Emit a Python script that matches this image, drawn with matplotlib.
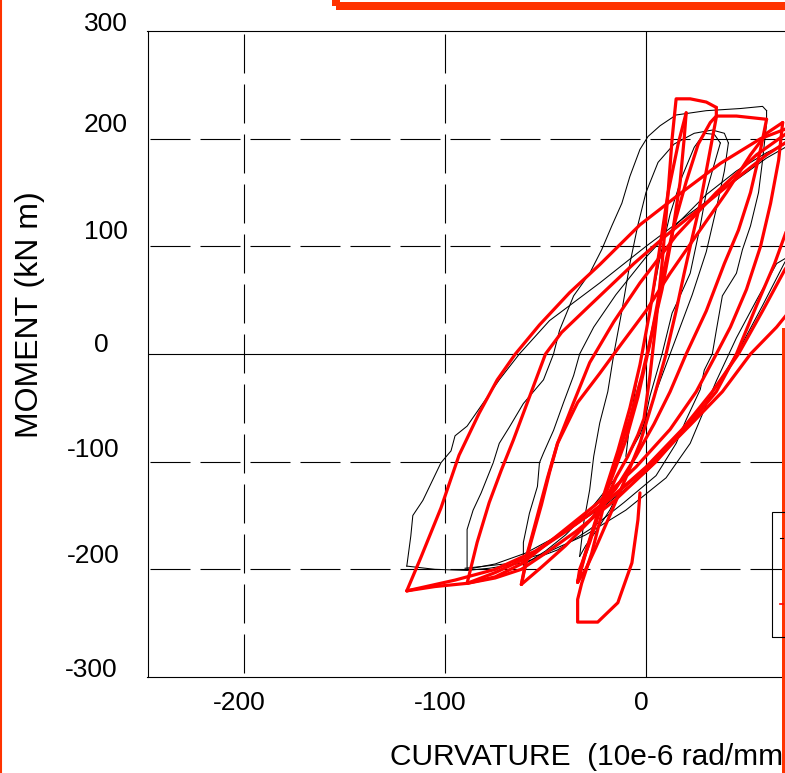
import numpy as np
import matplotlib.pyplot as plt
from matplotlib.patches import Rectangle
from matplotlib.lines import Line2D

plt.rcParams['font.family'] = ['Liberation Sans', 'DejaVu Sans']
plt.rcParams['lines.scale_dashes'] = False

# axis ticks
x_ticks = [-200, -100, 0]
x_tick_labels = ['-200', '-100', '0']
y_ticks = [300, 200, 100, 0, -100, -200, -300]
y_tick_labels = ['300', '200', '100', '0', '-100', '-200', '-300']

# analytical model (red), branch by branch: (curvature, moment)
red_e_start = [(-3, -129), (-4, -154), (-7, -194), (-14, -231), (-24, -249), (-34, -249),
               (-34, -228), (-32, -213), (-27, -185), (-21, -141), (-15, -115), (-9, -95),
               (-4, -75), (-1, -60), (2, -20), (5, 30), (8, 84), (11, 150), (13, 200),
               (15, 237), (22, 237), (30, 234), (35, 229)]
red_e_down = [(35, 229), (35, 220), (32, 190), (27, 140), (22, 100), (19, 75), (15, 40),
              (10, 0), (4, -40), (-3, -83), (-10, -115), (-18, -150), (-25, -180),
              (-30, -200), (-34, -212)]
red_f_up = [(-34, -212), (-31, -190), (-26, -160), (-20, -125), (-14, -90), (-8, -50),
            (-3, -10), (2, 40), (7, 100), (11, 150), (16, 195), (20, 224)]
red_f_down = [(20, 224), (19, 200), (17, 160), (13, 110), (8, 60), (3, 20), (-2, -20),
              (-8, -60), (-15, -100), (-22, -140), (-28, -175), (-33, -200), (-34, -212)]
red_d_up = [(-34, -212), (-30, -185), (-24, -150), (-17, -115), (-10, -80), (-4, -40),
            (2, 10), (8, 70), (14, 120), (20, 160), (26, 195), (32, 215), (35, 221),
            (45, 221), (55, 219), (60, 218)]
red_d_down = [(60, 218), (57, 190), (52, 150), (46, 115), (39, 84), (30, 40), (20, 0),
              (12, -35), (4, -65), (-5, -95), (-15, -125), (-28, -155), (-40, -178),
              (-52, -198), (-62, -214)]
red_g_up = [(-62, -214), (-58, -180), (-52, -140), (-48, -110), (-44, -83), (-34, -45),
            (-23, -18), (-12, 10), (0, 40), (12, 75), (25, 110), (40, 150), (52, 185),
            (60, 205), (68, 215)]
red_g_down = [(68, 215), (66, 180), (62, 140), (57, 100), (50, 60), (42, 25), (35, 0),
              (25, -35), (12, -70), (-5, -105), (-25, -140), (-45, -170), (-62, -195),
              (-75, -207), (-89, -213)]
red_c_up = [(-62, -214), (-59, -185), (-54, -150), (-49, -115), (-44, -83), (-36, -45),
            (-28, -8), (-16, 30), (-3, 66), (15, 110), (35, 150), (55, 185), (70, 205),
            (85, 218)]
red_c_down = [(85, 218), (82, 190), (76, 150), (70, 115), (64, 84), (55, 45), (45, 0),
              (35, -35), (22, -64), (5, -100), (-15, -135), (-35, -165), (-50, -185),
              (-62, -200), (-75, -208), (-89, -213)]
red_b_up = [(-89, -213), (-84, -175), (-78, -138), (-72, -108), (-66, -80), (-60, -50),
            (-55, -25), (-50, 0), (-42, 20), (-28, 45), (-6, 84), (10, 110), (30, 140),
            (45, 163), (60, 185), (75, 203), (90, 215), (100, 220)]
red_b_down = [(100, 220), (96, 185), (88, 140), (78, 105), (69, 78), (58, 40), (46, 0),
              (33, -35), (18, -70), (0, -105), (-20, -138), (-40, -165), (-60, -190),
              (-75, -203), (-89, -213), (-105, -216), (-119, -220)]
red_a_up = [(-119, -220), (-112, -189), (-102, -143), (-93, -94), (-83, -55), (-74, -24),
            (-65, 0), (-53, 27), (-38, 57), (-23, 83), (-3, 120), (17, 149), (37, 177),
            (57, 200), (75, 213), (100, 220), (125, 222)]
red_a_down = [(125, 222), (121, 185), (113, 145), (102, 110), (90, 82), (78, 55), (65, 25),
              (52, 0), (38, -35), (22, -66), (5, -98), (-15, -130), (-35, -158),
              (-55, -183), (-75, -200), (-95, -210), (-119, -220)]

# test record (black)
blk_start = [(-10, -95), (-8, -64), (-5, -30), (-1, 10), (3, 50), (7, 90), (12, 130),
             (18, 165), (24, 192), (29, 205), (34, 204), (37, 196)]
blk_e_down = [(37, 196), (33, 170), (30, 150), (27, 119), (22, 75), (16, 50), (13, 38),
              (8, 0), (2, -39), (-3, -83), (-10, -115), (-18, -145), (-25, -165),
              (-30, -178), (-33, -188)]
blk_e_up = [(-33, -188), (-31, -157), (-28, -126), (-26, -95), (-23, -64), (-19, -35),
            (-16, 0), (-12, 40), (-8, 84), (-4, 120), (0, 150), (6, 178), (14, 195),
            (24, 205), (33, 208), (39, 205), (41, 196)]
blk_d_down = [(41, 196), (39, 170), (35, 135), (30, 95), (23, 55), (16, 20), (12, 0),
              (5, -35), (-3, -75), (-15, -115), (-28, -145), (-40, -168), (-50, -183),
              (-61, -196)]
blk_d_up = [(-61, -196), (-61, -175), (-58, -148), (-54, -123), (-53, -101), (-51, -92),
            (-46, -71), (-41, -45), (-36, -20), (-33, 0), (-26, 25), (-15, 55), (0, 90),
            (15, 120), (30, 148), (45, 170), (60, 187), (75, 200), (90, 210), (97, 213)]
blk_c_down = [(97, 213), (93, 180), (86, 140), (78, 110), (69, 85), (58, 45), (48, 10),
              (40, -15), (30, -45), (15, -80), (0, -110), (-20, -140), (-40, -165),
              (-60, -185), (-75, -195), (-89, -200)]
blk_b_up = [(-89, -200), (-89, -163), (-86, -145), (-82, -129), (-76, -101), (-73, -83),
            (-68, -68), (-61, -46), (-51, -24), (-46, 0), (-43, 22), (-36, 54), (-28, 75),
            (-22, 97), (-17, 119), (-12, 140), (-8, 165), (-3, 190), (1, 202), (7, 212),
            (15, 222), (30, 226), (47, 228), (58, 230), (60, 226)]
blk_b_down = [(60, 226), (60, 214), (58, 180), (56, 150), (52, 119), (48, 97), (45, 75),
              (42, 66), (38, 54), (35, 22), (33, 0), (29, -15), (27, -33), (20, -61),
              (15, -83), (5, -113), (-11, -138), (-28, -163), (-44, -182), (-61, -194),
              (-78, -199), (-89, -201), (-105, -200), (-119, -197)]
blk_a_up = [(-119, -197), (-117, -169), (-116, -150), (-111, -136), (-102, -101),
            (-97, -90), (-95, -76), (-89, -67), (-73, -24), (-63, 0), (-48, 31), (-23, 66),
            (0, 100), (20, 128), (40, 155), (60, 182), (75, 198), (95, 210), (120, 218)]
blk_a_down = [(120, 218), (115, 180), (105, 140), (90, 110), (75, 95), (65, 84), (55, 50),
              (45, 15), (35, -25), (22, -83), (10, -115), (-10, -145), (-30, -168),
              (-50, -185), (-70, -195), (-90, -199)]

red_branches = [red_e_start, red_e_down, red_f_up, red_f_down, red_d_up, red_d_down,
                red_g_up, red_g_down, red_c_up, red_c_down, red_b_up, red_b_down,
                red_a_up, red_a_down]
blk_branches = [blk_start, blk_e_down, blk_e_up, blk_d_down, blk_d_up, blk_c_down,
                blk_b_up, blk_b_down, blk_a_up, blk_a_down]

W, H = 785, 773
fig = plt.figure(figsize=(W / 100, H / 100), dpi=100)
# the plot area runs off the right edge of the picture
ax = fig.add_axes([147.5 / W, (H - 677) / H, 1005 / W, 646 / H])
ax.set_xlim(-248, 252)
ax.set_ylim(-300, 300)

pt = 72 / 100  # points per pixel
h_dash = (48 * pt, (40 * pt, 10 * pt))
v_dash = (46 * pt, (39 * pt, 11 * pt))
for v in [200, 100, -100, -200]:
    ax.axhline(v, color='black', lw=0.8, linestyle=h_dash, zorder=1)
ax.axhline(0, color='black', lw=0.8, zorder=1)
for v in [-200, -100, 100, 200]:
    ax.axvline(v, color='black', lw=0.8, linestyle=v_dash, zorder=1)
ax.axvline(0, color='black', lw=0.8, zorder=1)

for br in blk_branches:
    xs, ys = zip(*br)
    ax.plot(xs, ys, color='black', lw=0.75, zorder=2, solid_joinstyle='round')
for br in red_branches:
    xs, ys = zip(*br)
    ax.plot(xs, ys, color='#ff0000', lw=2.3, zorder=3, solid_joinstyle='round',
            solid_capstyle='round')

for s in ax.spines.values():
    s.set_linewidth(0.8)
ax.set_xticks([])
ax.set_yticks([])

fs = 19
# (horizontal centre offset, vertical offset) of each y label, pixels
y_label_off = {'300': (-42, 7), '200': (-42, 14), '100': (-42, 14), '0': (-46, 9),
               '-100': (-54, 12), '-200': (-54, 13), '-300': (-56, 7)}
for v, lab in zip(y_ticks, y_tick_labels):
    ax.annotate(lab, xy=(0, v), xycoords=('axes fraction', 'data'),
                xytext=y_label_off[lab], textcoords='offset pixels',
                ha='center', va='center', fontsize=fs)
for v, lab in zip(x_ticks, x_tick_labels):
    ax.annotate(lab, xy=(v, 0), xycoords=('data', 'axes fraction'),
                xytext=(-5, -26), textcoords='offset pixels',
                ha='center', va='center', fontsize=fs)

fig.text(30 / W, 1 - 315 / H, 'MOMENT (kN m)', rotation=90, ha='center', va='center',
         fontsize=23)
# the picture is cropped right after "mm", so the label stops there
fig.text(783 / W, 1 - 757 / H, 'CURVATURE  (10e-6 rad/mm', ha='right', va='center',
         fontsize=21.5)

# boxes of the surrounding page
orange = '#ff3300'
fig.add_artist(Line2D([1 / W, 1 / W], [0, 1], color=orange, lw=1.5))
fig.add_artist(Rectangle((336 / W, 1 - 6 / H), 600 / W, 100 / H, fill=False,
                         edgecolor=orange, lw=8 * pt))
fig.add_artist(Rectangle((783 / W, -50 / H), 200 / W, (773 - 329 + 50) / H, fill=False,
                         edgecolor=orange, lw=3 * pt))
fig.add_artist(Rectangle((771.5 / W, 1 - 637 / H), 100 / W, 125 / H, fill=False,
                         edgecolor='black', lw=0.8))
fig.add_artist(Line2D([780 / W, 783 / W], [1 - 538 / H] * 2, color='black', lw=0.8))
fig.add_artist(Line2D([780 / W, 783 / W], [1 - 604 / H] * 2, color='#ff0000', lw=1.2))

fig.savefig('out.png', dpi=100)
